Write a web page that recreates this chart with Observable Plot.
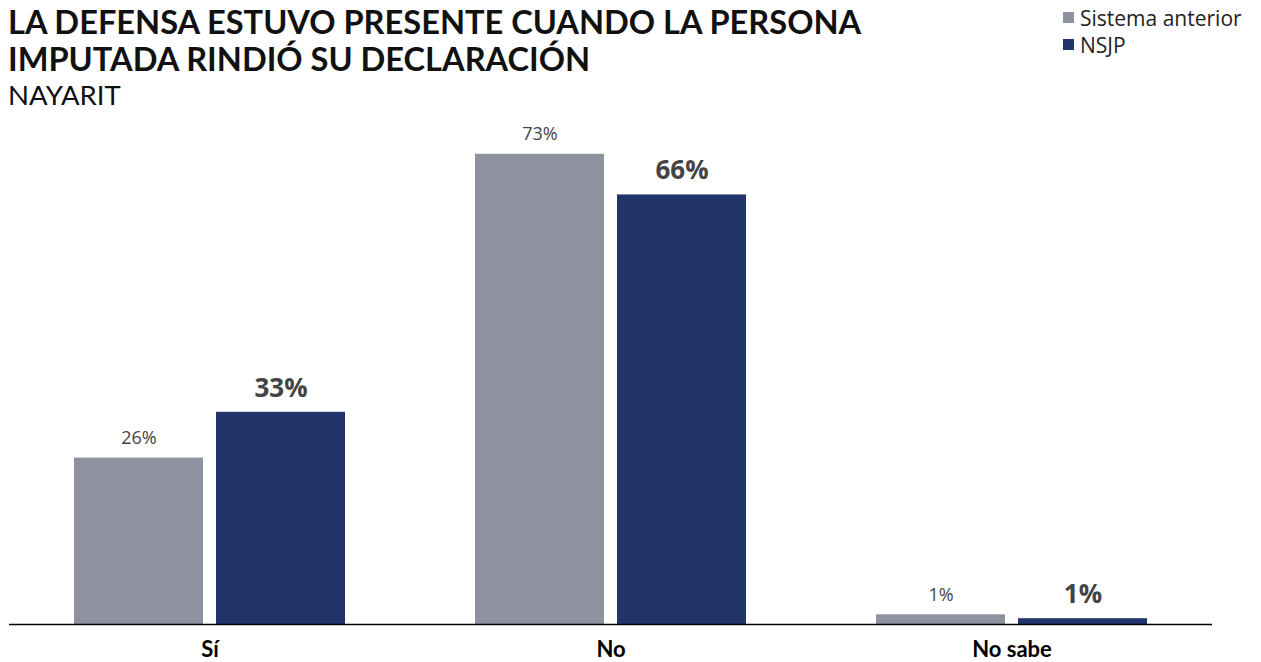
<!DOCTYPE html>
<html>
<head>
<meta charset="utf-8">
<script src="https://cdn.jsdelivr.net/npm/d3@7"></script>
<script src="https://cdn.jsdelivr.net/npm/@observablehq/plot@0.6"></script>
<style>
  html, body { margin: 0; padding: 0; background: #fff; }
  #wrap { width: 1261px; height: 662px; position: relative; overflow: hidden; }
  #header { position: relative; z-index: 2; width: 1261px; height: 100px; }
  #title { position: absolute; left: 8px; top: 3px; font-family: Lato, sans-serif; font-weight: 700; font-size: 32.6px; line-height: 37px; color: #111; margin: 0; white-space: nowrap; }
  #subtitle { position: absolute; left: 8px; top: 79px; font-family: Lato, sans-serif; font-weight: 400; font-size: 27.5px; line-height: 32px; color: #111; }
  #legend { position: absolute; left: 1063px; top: 4px; font-family: "Open Sans", sans-serif; font-size: 21px; color: #222; }
  .li { display: flex; align-items: center; height: 27px; }
  .sw { width: 11px; height: 11px; margin-right: 6px; }
  #chart { position: relative; z-index: 1; }
  #chart svg { display: block; background: transparent; }
</style>
</head>
<body>
<div id="wrap">
  <div id="header">
    <div id="title"></div>
    <div id="subtitle"></div>
    <div id="legend"></div>
  </div>
  <div id="chart"></div>
</div>
<script>
const titleLines = ["LA DEFENSA ESTUVO PRESENTE CUANDO LA PERSONA", "IMPUTADA RINDIÓ SU DECLARACIÓN"];
const subtitle = "NAYARIT";
const categories = ["Sí", "No", "No sabe"];
const series = ["Sistema anterior", "NSJP"];
const colors = ["#8e929e", "#21356b"];
const anterior = [25.8, 72.9, 1.5];
const nsjp = [32.9, 66.6, 0.9];
const anteriorLabels = ["26%", "73%", "1%"];
const nsjpLabels = ["33%", "66%", "1%"];

document.getElementById("title").innerHTML = titleLines.join("<br>");
document.getElementById("subtitle").textContent = subtitle;
const leg = document.getElementById("legend");
series.forEach((s, i) => {
  const row = document.createElement("div");
  row.className = "li";
  const sw = document.createElement("span");
  sw.className = "sw";
  sw.style.background = colors[i];
  const t = document.createElement("span");
  t.textContent = s;
  row.appendChild(sw); row.appendChild(t);
  leg.appendChild(row);
});

const data = categories.flatMap((c, i) => [
  {cat: c, serie: series[0], value: anterior[i], label: anteriorLabels[i]},
  {cat: c, serie: series[1], value: nsjp[i], label: nsjpLabels[i]}
]);

const chart = Plot.plot({
  width: 1261,
  height: 562,
  marginLeft: 8,
  marginRight: 49,
  marginTop: 40.25,
  marginBottom: 38,
  style: {background: "transparent"},
  fx: {domain: categories, padding: 0, axis: null},
  x: {domain: series, paddingInner: 0.0909, paddingOuter: 0.4486, axis: null},
  y: {domain: [0, 75], axis: null},
  color: {domain: series, range: colors},
  marks: [
    Plot.barY(data, {fx: "cat", x: "serie", y: "value", fill: "serie"}),
    Plot.text(data.filter(d => d.serie === series[0]), {
      fx: "cat", x: "serie", y: "value", text: "label", dy: -20,
      fill: "#444", fontSize: 18, fontFamily: "Open Sans", letterSpacing: 2
    }),
    Plot.text(data.filter(d => d.serie === series[1]), {
      fx: "cat", x: "serie", y: "value", text: "label", dy: -24,
      fill: "#444", fontSize: 26, fontWeight: "bold", fontFamily: "Open Sans"
    }),
    Plot.ruleY([0], {stroke: "#000", strokeWidth: 1.6}),
    Plot.text(categories, {
      fx: d => d, frameAnchor: "bottom", text: d => d, dy: 25, lineAnchor: "middle",
      fill: "#000", fontSize: 22, fontWeight: "bold", fontFamily: "Lato"
    })
  ]
});
document.getElementById("chart").appendChild(chart);
</script>
</body>
</html>
